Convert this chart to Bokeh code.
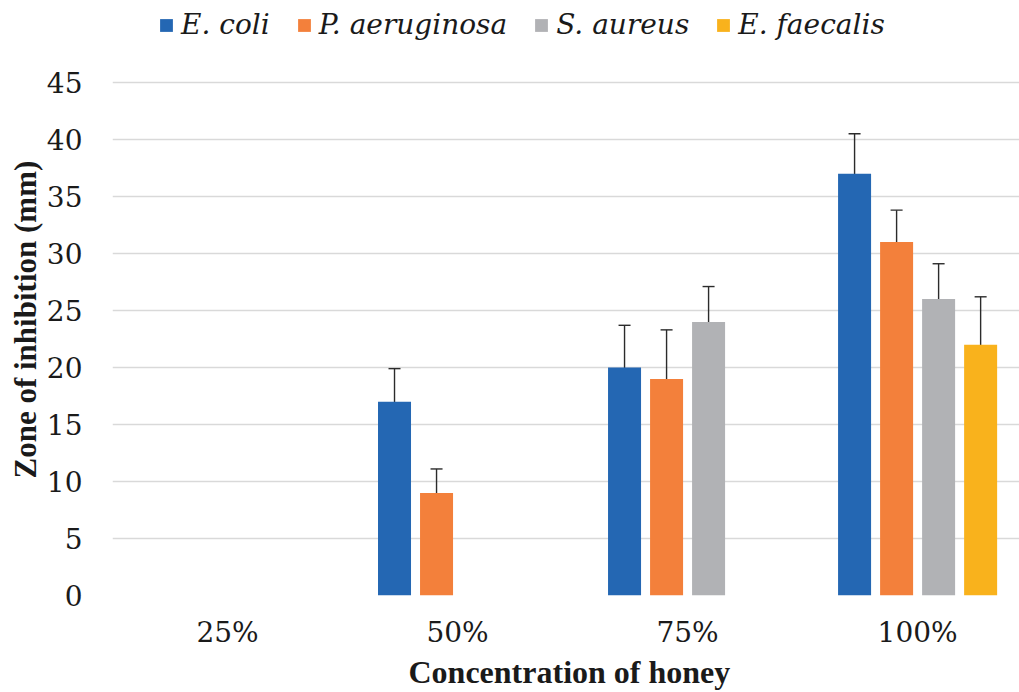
from bokeh.plotting import figure
from bokeh.models import (ColumnDataSource, Range1d, FixedTicker, Whisker, TeeHead,
                          Legend, LegendItem, Title)
from bokeh.transform import dodge
from bokeh.embed import file_html
from bokeh.resources import INLINE

# ---- data ----
categories = ["25%", "50%", "75%", "100%"]
series_names = ["E. coli", "P. aeruginosa", "S. aureus", "E. faecalis"]
ecoli = [0, 17, 20, 37]
ecoli_err = [0, 2.9, 3.7, 3.5]
paer = [0, 9, 19, 31]
paer_err = [0, 2.1, 4.3, 2.8]
saur = [0, 0, 24, 26]
saur_err = [0, 0, 3.1, 3.1]
efae = [0, 0, 0, 22]
efae_err = [0, 0, 0, 4.2]
y_ticks = [0, 5, 10, 15, 20, 25, 30, 35, 40, 45]

colors = ["#2467B3", "#F3803B", "#B1B2B5", "#F9B21C"]
values = [ecoli, paer, saur, efae]
errors = [ecoli_err, paer_err, saur_err, efae_err]
offsets = [-0.274, -0.0913, 0.0913, 0.274]
bar_w = 0.1435

BOLD_FONT = "'Liberation Serif', 'Times New Roman', serif"
REG_FONT = "'DejaVu Serif'"

p = figure(width=1019, height=692, output_backend="svg", toolbar_location=None,
           x_range=Range1d(-0.5, 3.443), y_range=Range1d(0, 52.19),
           min_border_left=112, min_border_right=0, min_border_top=0,
           min_border_bottom=97)
p.outline_line_color = None
p.background_fill_color = "white"
p.border_fill_color = "white"

xs = list(range(len(categories)))
renderers = []
for name, vals, errs, col, off in zip(series_names, values, errors, colors, offsets):
    src = ColumnDataSource(dict(x=xs, top=vals))
    r = p.vbar(x=dodge("x", off), top="top", width=bar_w, source=src,
               fill_color=col, line_color=None)
    renderers.append(r)
    wx = [x for x, v in zip(xs, vals) if v > 0]
    up = [v + e for v, e in zip(vals, errs) if v > 0]
    lo = [v - e for v, e in zip(vals, errs) if v > 0]
    wsrc = ColumnDataSource(dict(x=wx, upper=up, lower=lo))
    w = Whisker(base=dodge("x", off), upper="upper", lower="lower", source=wsrc,
                dimension="height", line_color="#2B2B2B", line_width=1.4,
                upper_head=TeeHead(size=12, line_color="#2B2B2B", line_width=1.4),
                lower_head=TeeHead(size=12, line_color="#2B2B2B", line_width=1.4))
    p.add_layout(w)

# axes
for ax in (p.xaxis, p.yaxis):
    ax.axis_line_color = None
    ax.major_tick_line_color = None
    ax.minor_tick_line_color = None
    ax.major_tick_out = 0
    ax.major_tick_in = 0
    ax.minor_tick_out = 0
    ax.minor_tick_in = 0
    ax.major_label_text_font = REG_FONT
    ax.major_label_text_font_size = "28px"
    ax.major_label_text_color = "#1a1a1a"

p.xaxis.ticker = FixedTicker(ticks=xs)
p.xaxis.major_label_overrides = {i: c for i, c in enumerate(categories)}
p.xaxis.major_label_standoff = 20

p.yaxis.ticker = FixedTicker(ticks=y_ticks)
p.yaxis.major_label_standoff = 30

p.xgrid.grid_line_color = None
p.ygrid.grid_line_color = "#D9D9D9"
p.ygrid.grid_line_width = 1.6

# axis titles
p.add_layout(Title(text="Zone of inhibition (mm)", align="left", offset=117,
                   standoff=2, text_font=BOLD_FONT, text_font_size="31px",
                   text_font_style="bold", text_color="#1a1a1a"), "left")
p.add_layout(Title(text="Concentration of honey", align="left", offset=296,
                   standoff=0, text_font=BOLD_FONT, text_font_size="32px",
                   text_font_style="bold", text_color="#1a1a1a"), "below")

# legend
legend = Legend(items=[LegendItem(label=n, renderers=[r]) for n, r in zip(series_names, renderers)],
                orientation="horizontal", location=(46, 554),
                padding=0, margin=0, spacing=26,
                glyph_width=16, glyph_height=16, label_standoff=7,
                label_text_font=REG_FONT, label_text_font_size="28px",
                label_text_font_style="italic", label_text_color="#1a1a1a",
                border_line_color=None, background_fill_alpha=0)
p.add_layout(legend)

open("out.html", "w").write(file_html(p, INLINE))
